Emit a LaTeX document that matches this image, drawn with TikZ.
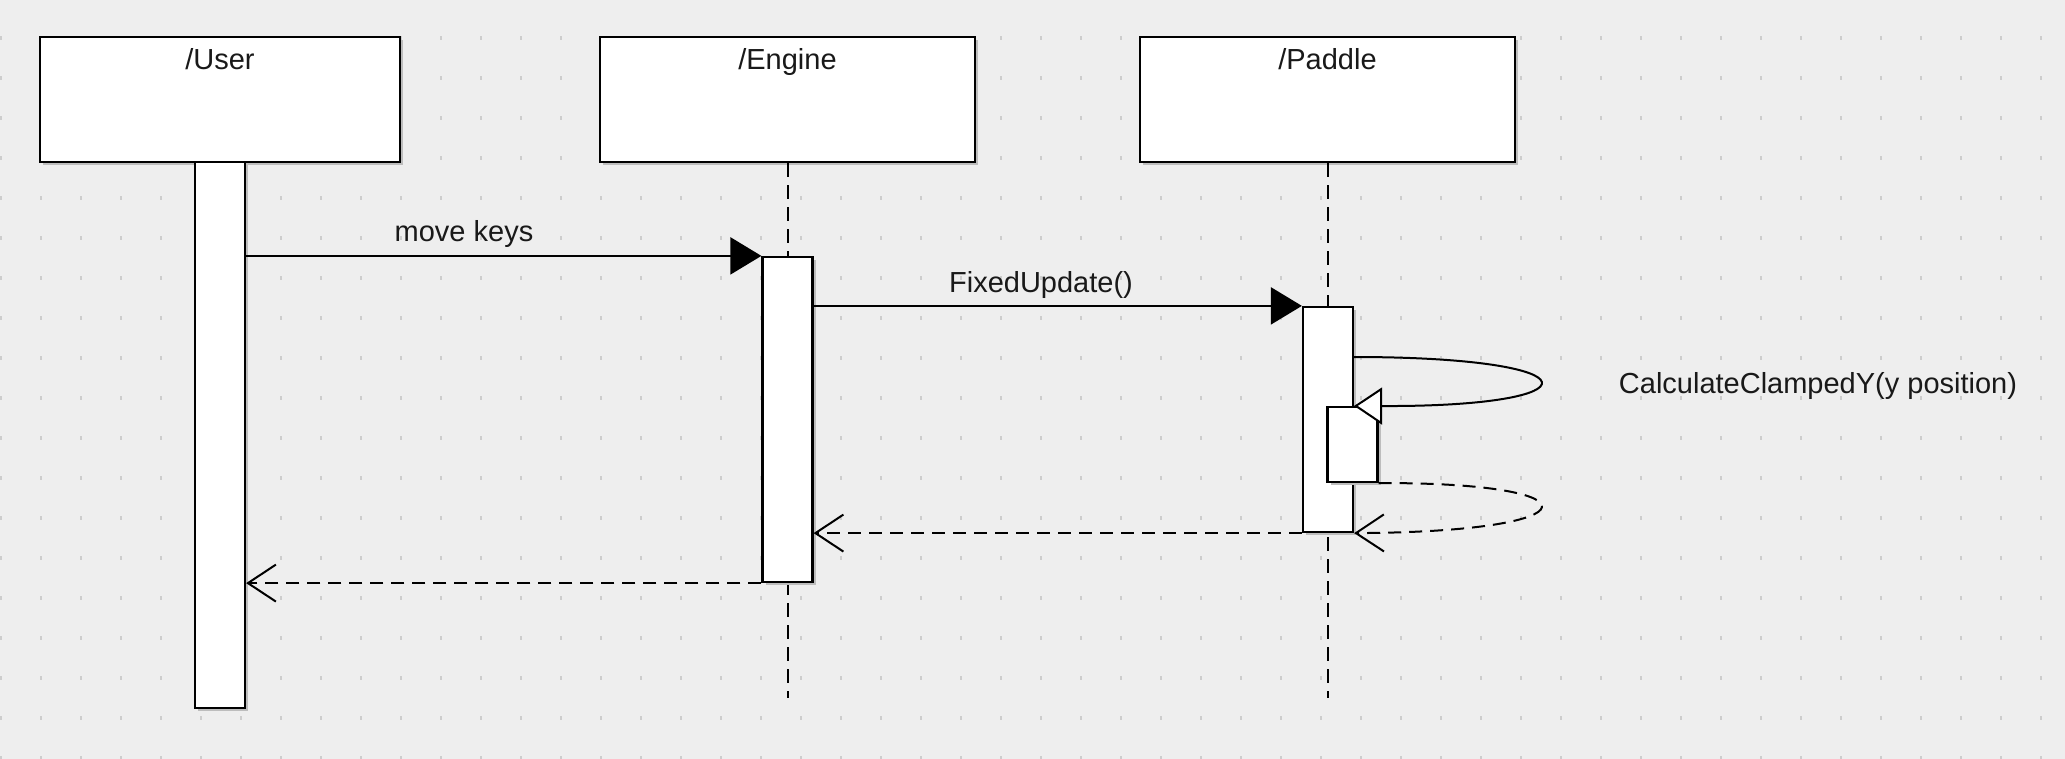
\documentclass[tikz,border=0pt]{standalone}
\usepackage{fontspec}
\setmainfont{Liberation Sans}
\usetikzlibrary{arrows.meta,shadows}
\definecolor{bgc}{HTML}{EEEEEE}
\definecolor{dotc}{HTML}{CDCDCD}
\definecolor{shadc}{HTML}{BDBDBD}
\begin{document}
\begin{tikzpicture}[x=1pt,y=-1pt,
  shad/.style={drop shadow={shadow xshift=3pt, shadow yshift=-3pt, fill=shadc, opacity=1}},
  objbox/.style={draw=black, fill=white, line width=2.2pt, inner sep=0pt, shad},
  actbox/.style={draw=black, fill=white, line width=2.2pt, inner sep=0pt, minimum width=50pt, shad},
  lifeline/.style={draw=black, line width=2pt, dash pattern=on 14pt off 8pt},
  msg/.style={line width=2pt, -{Triangle[length=31pt,width=37pt]}},
  retmsg/.style={line width=2pt, dash pattern=on 13pt off 8pt, -{Straight Barb[length=28pt,width=37pt,line width=2pt]}},
  selfmsg/.style={line width=2pt, -{Triangle[fill=white,length=28pt,width=37pt,line width=2pt]}},
  lbl/.style={font=\fontsize{29}{34}\selectfont, text=black!90, anchor=base, inner sep=0pt}
]
\useasboundingbox (0,0) rectangle (2065,759);
\fill[bgc] (0,0) rectangle (2065,759);
% grid dots
\foreach \x in {1,41,...,2065} {
  \foreach \y in {38,78,...,770} {
    \fill[dotc] ({\x-1},{\y-2}) rectangle ({\x+1},{\y+2});
  }
}
% object heads
\node[objbox, minimum width=360pt, minimum height=125pt] (ubox) at (220,99.5) {};
\node[objbox, minimum width=375pt, minimum height=125pt] (ebox) at (787.5,99.5) {};
\node[objbox, minimum width=375pt, minimum height=125pt] (pbox) at (1327.5,99.5) {};
\node[lbl] (utxt) at (220,70) {/User};
\node[lbl] (etxt) at (787.5,70) {/Engine};
\node[lbl] (ptxt) at (1327.5,70) {/Paddle};
% lifelines
\coordinate (eend) at (787.5,698);
\coordinate (pend) at (1327.5,698);
\draw[lifeline] (ebox.south) -- (eend);
\draw[lifeline] (pbox.south) -- (pend);
% activations
\node[actbox, minimum height=546pt] (uact) at (220,435) {};
\node[actbox, minimum height=325pt] (eact) at (787.5,419.5) {};
\node[actbox, minimum height=225pt] (pact) at (1328,419.5) {};
\node[actbox, minimum height=75pt] (pnest) at (1352.5,444.5) {};
% messages
\draw[msg] (uact.east |- eact.north west) -- (eact.north west);
\node[lbl] (mk) at (464,242) {move keys};
\draw[msg] (eact.east |- pact.north west) -- (pact.north west);
\node[lbl] (fu) at (1041,293) {FixedUpdate()};
% self call
\coordinate (scs) at (1353,357);
\draw[selfmsg] (scs) .. controls (1600,357) and (1600,407) .. (pact.east |- pnest.north);
\node[lbl] (cc) at (1818,393) {CalculateClampedY(y position)};
% self return
\draw[retmsg] (pnest.south east) .. controls (1600,482) and (1600,532) .. (pact.south east);
% returns
\draw[retmsg] (pact.south west) -- (eact.east |- pact.south west);
\draw[retmsg] (eact.south west) -- (uact.east |- eact.south west);
\end{tikzpicture}
\end{document}
